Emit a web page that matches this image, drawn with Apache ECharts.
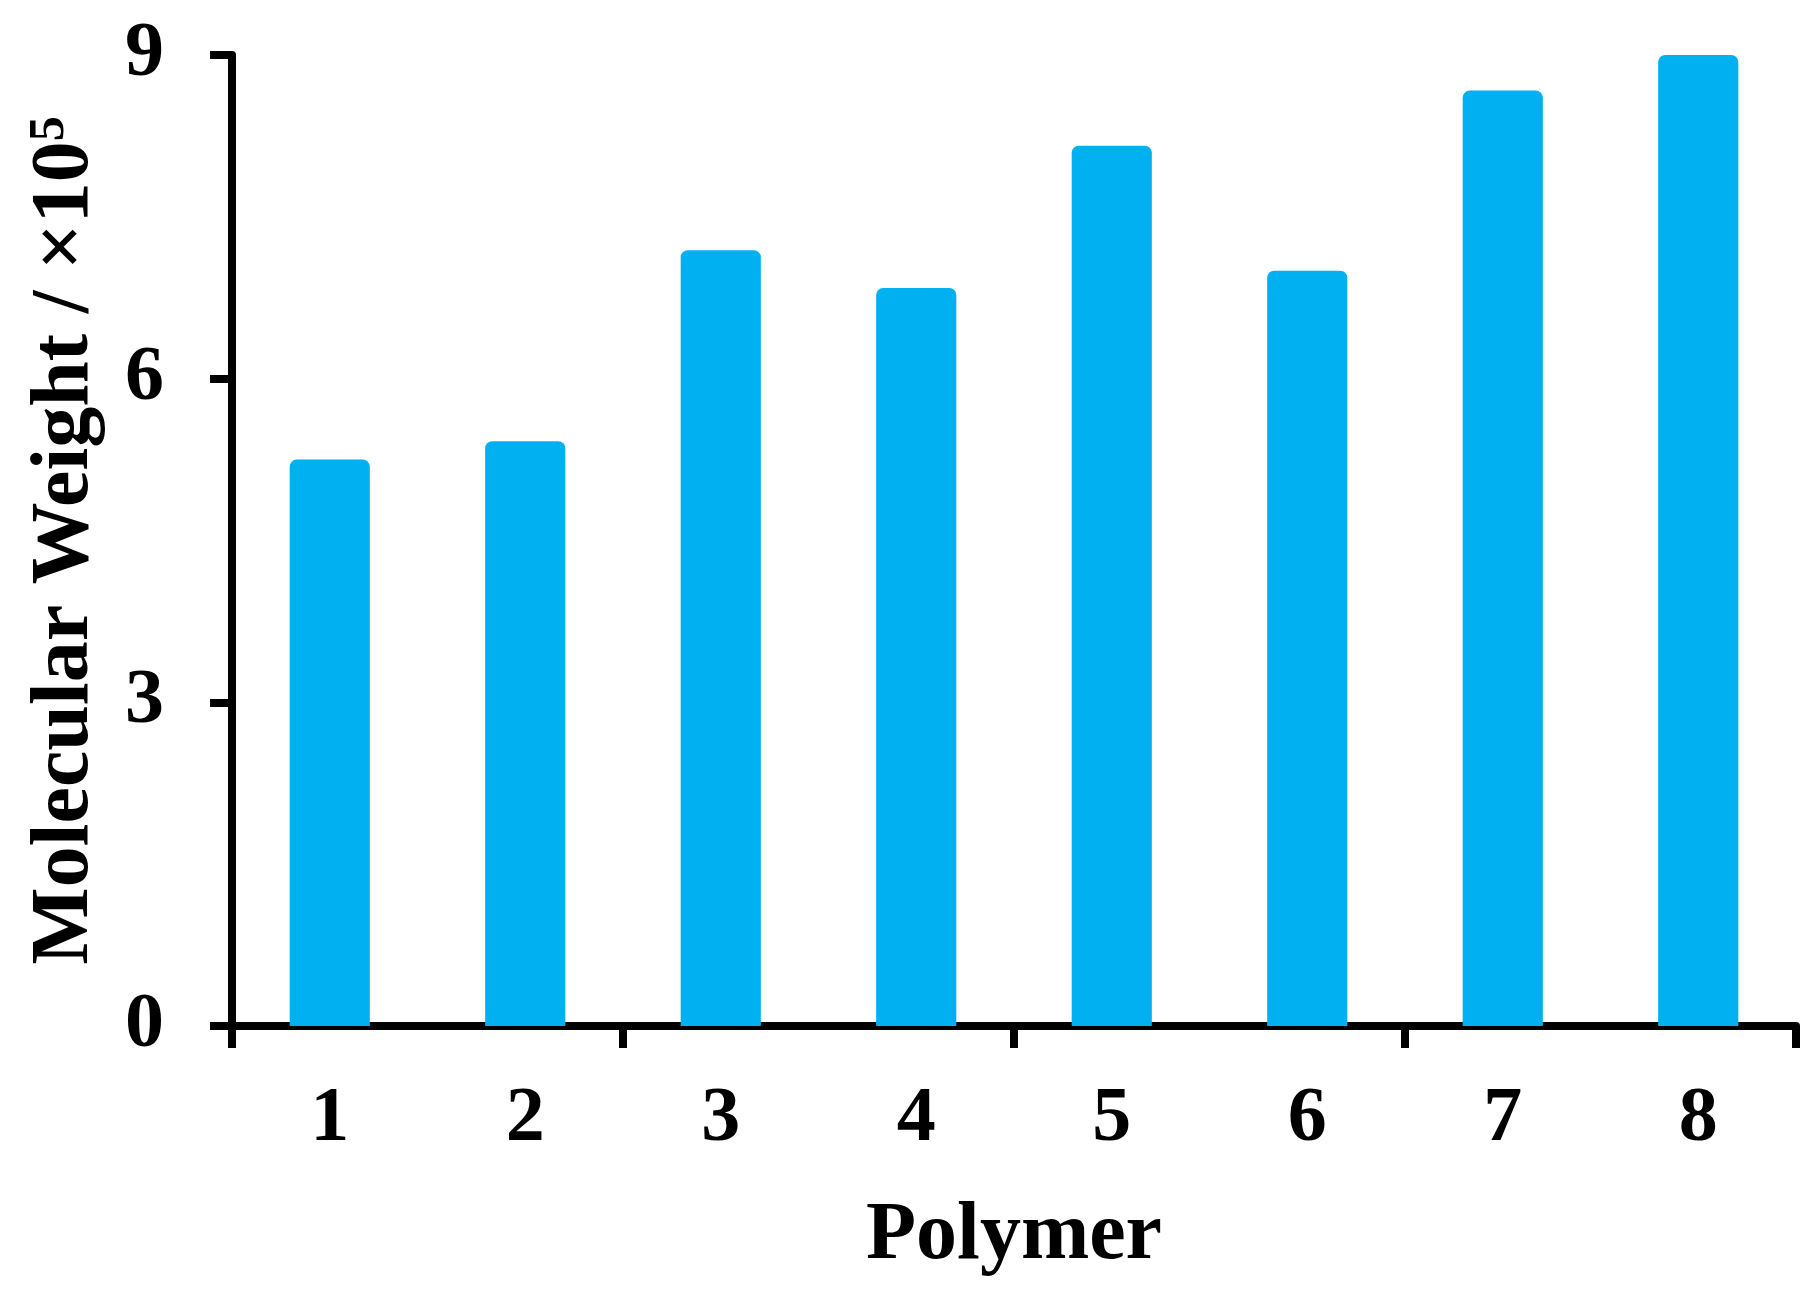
<!DOCTYPE html>
<html>
<head>
<meta charset="utf-8">
<title>Molecular Weight by Polymer</title>
<script src="https://cdn.jsdelivr.net/npm/echarts@6/dist/echarts.min.js"></script>
<style>
  html, body { margin: 0; padding: 0; background: #fff; }
  #chart { width: 1817px; height: 1299px; }
</style>
</head>
<body>
<div id="chart"></div>
<script>
// polymer numbers on the x axis
const polymers = ['1', '2', '3', '4', '5', '6', '7', '8']
// molecular weight, in units of 10^5
const molWeights = [5.25, 5.42, 7.19, 6.84, 8.16, 7.0, 8.67, 9.0]
// y axis ticks
const yTicks = [0, 3, 6, 9]

const font = '"Liberation Serif", "Times New Roman", serif'

const chart = echarts.init(document.getElementById('chart'))
chart.setOption({
  animation: false,
  grid: {
    left: 232,
    right: 21,
    top: 55,
    bottom: 273
  },
  xAxis: {
    type: 'category',
    data: polymers,
    name: 'Polymer',
    nameLocation: 'middle',
    nameGap: 170,
    nameTextStyle: {
      fontFamily: font,
      fontWeight: 'bold',
      fontSize: 82,
      color: '#000'
    },
    axisLine: {
      lineStyle: { color: '#000', width: 8 }
    },
    axisTick: {
      show: true,
      interval: 1, // tick every second boundary
      length: 22,
      lineStyle: { color: '#000', width: 8 }
    },
    axisLabel: {
      margin: 55,
      fontFamily: font,
      fontWeight: 'bold',
      fontSize: 78,
      color: '#000'
    },
    splitLine: { show: false }
  },
  yAxis: {
    type: 'value',
    min: yTicks[0],
    max: yTicks[yTicks.length - 1],
    interval: yTicks[1] - yTicks[0],
    name: '{n|Molecular Weight / ×10}{sup|5}',
    nameLocation: 'middle',
    nameGap: 125,
    nameRotate: 90,
    nameTextStyle: {
      rich: {
        n: {
          fontFamily: font,
          fontWeight: 'bold',
          fontSize: 82,
          color: '#000',
          verticalAlign: 'bottom'
        },
        sup: {
          fontFamily: font,
          fontWeight: 'bold',
          fontSize: 50,
          color: '#000',
          verticalAlign: 'top',
          padding: [0, 0, 30, 0]
        }
      }
    },
    axisLine: {
      show: true,
      lineStyle: { color: '#000', width: 8 }
    },
    axisTick: {
      show: true,
      length: 22,
      lineStyle: { color: '#000', width: 8 }
    },
    axisLabel: {
      margin: 68,
      fontFamily: font,
      fontWeight: 'bold',
      fontSize: 78,
      color: '#000'
    },
    splitLine: { show: false }
  },
  series: [
    {
      type: 'bar',
      data: molWeights,
      barWidth: '41%',
      itemStyle: {
        color: '#00B0F0',
        borderRadius: [7, 7, 0, 0]
      }
    }
  ]
})
</script>
</body>
</html>
